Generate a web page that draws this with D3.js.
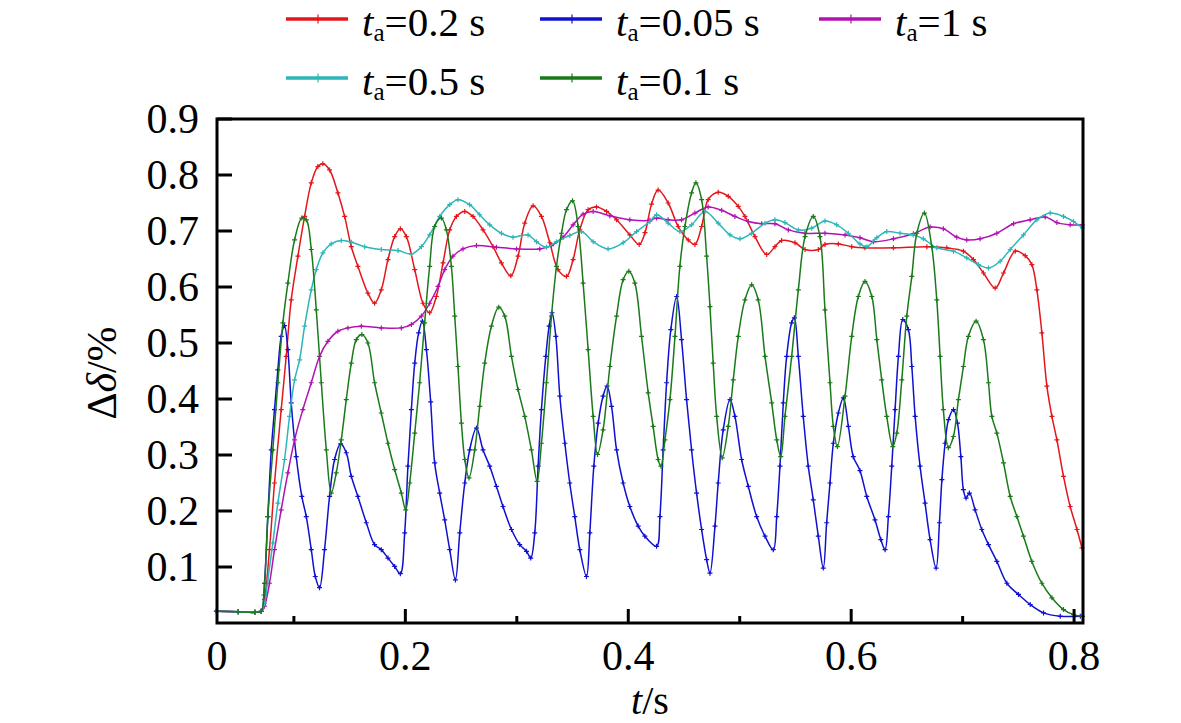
<!DOCTYPE html>
<html>
<head>
<meta charset="utf-8">
<script src="https://cdn.jsdelivr.net/npm/d3@7"></script>
<style>
  body { margin: 0; background: #fff; }
</style>
</head>
<body>
<div id="viz"></div>
<script>
// series: t (s) vs delta (%)
const seriesNames = ["0.2", "0.05", "1", "0.5", "0.1"];
const seriesColors = ["#e3161b", "#1010d0", "#b312b3", "#2db6b8", "#1a7a1a"];

const baseline = [[0.0305, 0.021], [0.0500, 0.020], [0.0650, 0.019], [0.0707, 0.021]];

const red = [[0.0736,0.042],[0.0781,0.131],[0.0826,0.250],[0.0886,0.381],[0.0931,0.476],[0.0976,0.577],[0.1036,0.655],[0.1096,0.726],[0.1156,0.786],[0.1215,0.815],[0.1260,0.820],[0.1320,0.809],[0.1395,0.768],[0.1455,0.726],[0.1515,0.672],[0.1574,0.637],[0.1664,0.589],[0.1724,0.571],[0.1784,0.595],[0.1844,0.649],[0.1904,0.690],[0.1955,0.704],[0.2009,0.690],[0.2084,0.631],[0.2158,0.571],[0.2218,0.554],[0.2278,0.583],[0.2338,0.643],[0.2398,0.702],[0.2458,0.726],[0.2533,0.735],[0.2607,0.726],[0.2697,0.702],[0.2787,0.672],[0.2862,0.643],[0.2946,0.620],[0.3011,0.655],[0.3071,0.714],[0.3146,0.745],[0.3221,0.726],[0.3296,0.679],[0.3370,0.631],[0.3446,0.619],[0.3505,0.649],[0.3565,0.702],[0.3640,0.738],[0.3715,0.743],[0.3805,0.735],[0.3895,0.720],[0.4014,0.693],[0.4098,0.676],[0.4150,0.697],[0.4209,0.748],[0.4268,0.773],[0.4358,0.750],[0.4448,0.708],[0.4538,0.684],[0.4598,0.676],[0.4658,0.708],[0.4717,0.756],[0.4807,0.769],[0.4897,0.762],[0.4987,0.744],[0.5047,0.726],[0.5137,0.690],[0.5242,0.658],[0.5316,0.672],[0.5376,0.683],[0.5496,0.679],[0.5586,0.667],[0.5705,0.667],[0.5765,0.676],[0.5885,0.677],[0.6005,0.672],[0.6124,0.670],[0.6379,0.670],[0.6679,0.672],[0.6858,0.670],[0.7007,0.664],[0.7097,0.649],[0.7187,0.625],[0.7292,0.598],[0.7367,0.625],[0.7472,0.664],[0.7561,0.656],[0.7621,0.640],[0.7666,0.595],[0.7711,0.518],[0.7756,0.423],[0.7801,0.369],[0.7846,0.327],[0.7905,0.262],[0.7965,0.208],[0.8026,0.167],[0.8071,0.134]];

const blue = [[0.0736,0.071],[0.0766,0.190],[0.0797,0.309],[0.0826,0.381],[0.0856,0.452],[0.0886,0.512],[0.0916,0.531],[0.0946,0.488],[0.0976,0.393],[0.1021,0.297],[0.1071,0.226],[0.1111,0.190],[0.1156,0.131],[0.1192,0.083],[0.1230,0.063],[0.1275,0.131],[0.1320,0.226],[0.1365,0.292],[0.1419,0.320],[0.1470,0.304],[0.1515,0.262],[0.1574,0.226],[0.1650,0.179],[0.1724,0.140],[0.1784,0.131],[0.1844,0.116],[0.1904,0.101],[0.1955,0.088],[0.1994,0.161],[0.2023,0.280],[0.2054,0.381],[0.2084,0.464],[0.2119,0.518],[0.2153,0.539],[0.2189,0.488],[0.2227,0.395],[0.2263,0.286],[0.2308,0.232],[0.2353,0.184],[0.2398,0.131],[0.2449,0.077],[0.2488,0.161],[0.2533,0.250],[0.2577,0.309],[0.2638,0.348],[0.2697,0.309],[0.2757,0.280],[0.2817,0.244],[0.2876,0.208],[0.2952,0.167],[0.3026,0.140],[0.3087,0.128],[0.3125,0.116],[0.3161,0.161],[0.3191,0.280],[0.3221,0.381],[0.3260,0.476],[0.3290,0.530],[0.3316,0.554],[0.3350,0.512],[0.3386,0.405],[0.3431,0.321],[0.3475,0.250],[0.3520,0.190],[0.3565,0.131],[0.3625,0.083],[0.3655,0.161],[0.3691,0.280],[0.3730,0.357],[0.3774,0.405],[0.3810,0.423],[0.3850,0.387],[0.3895,0.309],[0.3954,0.250],[0.4014,0.208],[0.4089,0.173],[0.4149,0.155],[0.4254,0.137],[0.4284,0.190],[0.4313,0.309],[0.4344,0.429],[0.4382,0.524],[0.4434,0.583],[0.4478,0.506],[0.4523,0.399],[0.4568,0.309],[0.4613,0.232],[0.4658,0.167],[0.4703,0.113],[0.4733,0.089],[0.4778,0.173],[0.4807,0.250],[0.4852,0.345],[0.4913,0.399],[0.4957,0.369],[0.5017,0.292],[0.5077,0.244],[0.5152,0.190],[0.5227,0.155],[0.5301,0.131],[0.5332,0.190],[0.5361,0.280],[0.5391,0.393],[0.5421,0.476],[0.5466,0.536],[0.5490,0.545],[0.5526,0.476],[0.5570,0.369],[0.5615,0.280],[0.5660,0.220],[0.5705,0.155],[0.5750,0.098],[0.5780,0.179],[0.5810,0.250],[0.5840,0.321],[0.5885,0.375],[0.5930,0.402],[0.5975,0.351],[0.6019,0.297],[0.6079,0.272],[0.6140,0.226],[0.6214,0.184],[0.6266,0.149],[0.6304,0.131],[0.6334,0.190],[0.6364,0.280],[0.6394,0.381],[0.6424,0.476],[0.6463,0.542],[0.6513,0.524],[0.6544,0.458],[0.6574,0.369],[0.6618,0.280],[0.6663,0.214],[0.6708,0.149],[0.6762,0.098],[0.6792,0.179],[0.6814,0.256],[0.6843,0.321],[0.6873,0.363],[0.6918,0.381],[0.6954,0.357],[0.6984,0.297],[0.7007,0.238],[0.7031,0.223],[0.7061,0.232],[0.7112,0.202],[0.7172,0.167],[0.7232,0.140],[0.7307,0.110],[0.7397,0.071],[0.7501,0.051],[0.7606,0.033],[0.7726,0.018],[0.7876,0.012],[0.8056,0.012]];

const magenta = [[0.0736,0.030],[0.0781,0.071],[0.0826,0.131],[0.0886,0.202],[0.0946,0.268],[0.1006,0.327],[0.1080,0.381],[0.1156,0.429],[0.1230,0.476],[0.1305,0.503],[0.1395,0.521],[0.1485,0.527],[0.1605,0.530],[0.1784,0.527],[0.1964,0.527],[0.2054,0.533],[0.2144,0.548],[0.2218,0.571],[0.2293,0.601],[0.2353,0.631],[0.2427,0.655],[0.2517,0.668],[0.2638,0.674],[0.2817,0.671],[0.2997,0.668],[0.3206,0.668],[0.3311,0.674],[0.3415,0.689],[0.3505,0.711],[0.3595,0.730],[0.3685,0.735],[0.3835,0.727],[0.4014,0.720],[0.4194,0.719],[0.4254,0.723],[0.4358,0.720],[0.4478,0.720],[0.4598,0.732],[0.4717,0.743],[0.4838,0.737],[0.4957,0.726],[0.5077,0.717],[0.5197,0.713],[0.5316,0.713],[0.5436,0.702],[0.5586,0.696],[0.5765,0.696],[0.5945,0.693],[0.6079,0.688],[0.6199,0.681],[0.6379,0.686],[0.6558,0.695],[0.6708,0.707],[0.6827,0.704],[0.6947,0.689],[0.7037,0.684],[0.7157,0.686],[0.7307,0.696],[0.7457,0.713],[0.7606,0.720],[0.7741,0.725],[0.7846,0.715],[0.7965,0.711],[0.8075,0.711]];

const cyan = [[0.0736,0.035],[0.0766,0.077],[0.0811,0.143],[0.0856,0.214],[0.0916,0.292],[0.0961,0.369],[0.1006,0.434],[0.1051,0.470],[0.1096,0.530],[0.1156,0.595],[0.1201,0.631],[0.1260,0.661],[0.1335,0.677],[0.1425,0.683],[0.1515,0.680],[0.1635,0.672],[0.1784,0.667],[0.1934,0.665],[0.2054,0.659],[0.2144,0.672],[0.2218,0.693],[0.2308,0.726],[0.2398,0.747],[0.2472,0.756],[0.2577,0.747],[0.2667,0.729],[0.2757,0.711],[0.2862,0.696],[0.2966,0.689],[0.3042,0.692],[0.3101,0.693],[0.3176,0.681],[0.3266,0.671],[0.3356,0.681],[0.3475,0.692],[0.3580,0.699],[0.3685,0.681],[0.3819,0.668],[0.3954,0.679],[0.4074,0.699],[0.4194,0.717],[0.4254,0.729],[0.4358,0.714],[0.4463,0.699],[0.4568,0.711],[0.4688,0.735],[0.4807,0.714],[0.4913,0.693],[0.5002,0.686],[0.5107,0.696],[0.5227,0.714],[0.5316,0.720],[0.5406,0.715],[0.5526,0.702],[0.5646,0.705],[0.5765,0.718],[0.5870,0.711],[0.5975,0.696],[0.6079,0.677],[0.6140,0.672],[0.6230,0.688],[0.6319,0.699],[0.6439,0.696],[0.6558,0.693],[0.6648,0.686],[0.6768,0.670],[0.6918,0.664],[0.7037,0.652],[0.7141,0.640],[0.7232,0.634],[0.7337,0.646],[0.7427,0.667],[0.7546,0.693],[0.7666,0.720],[0.7786,0.732],[0.7905,0.726],[0.7995,0.717],[0.8075,0.705]];

const green = [[0.0730,0.050],[0.0766,0.190],[0.0811,0.309],[0.0856,0.429],[0.0901,0.536],[0.0946,0.607],[0.1006,0.684],[0.1071,0.723],[0.1111,0.720],[0.1156,0.667],[0.1201,0.559],[0.1246,0.429],[0.1291,0.309],[0.1335,0.232],[0.1380,0.268],[0.1425,0.327],[0.1470,0.399],[0.1515,0.464],[0.1560,0.506],[0.1610,0.515],[0.1664,0.500],[0.1724,0.429],[0.1784,0.375],[0.1844,0.321],[0.1904,0.274],[0.1964,0.232],[0.2003,0.202],[0.2039,0.250],[0.2084,0.339],[0.2128,0.429],[0.2173,0.536],[0.2218,0.637],[0.2263,0.708],[0.2323,0.723],[0.2368,0.702],[0.2413,0.637],[0.2443,0.548],[0.2472,0.458],[0.2503,0.357],[0.2533,0.292],[0.2571,0.259],[0.2622,0.309],[0.2667,0.387],[0.2712,0.464],[0.2772,0.530],[0.2838,0.564],[0.2892,0.548],[0.2952,0.476],[0.3011,0.417],[0.3071,0.369],[0.3131,0.309],[0.3182,0.253],[0.3221,0.321],[0.3266,0.429],[0.3311,0.548],[0.3356,0.637],[0.3401,0.696],[0.3446,0.738],[0.3500,0.754],[0.3550,0.708],[0.3595,0.607],[0.3640,0.488],[0.3685,0.369],[0.3724,0.301],[0.3774,0.345],[0.3835,0.458],[0.3895,0.548],[0.3954,0.613],[0.4005,0.628],[0.4059,0.607],[0.4119,0.512],[0.4179,0.411],[0.4223,0.351],[0.4268,0.292],[0.4293,0.280],[0.4329,0.327],[0.4374,0.399],[0.4419,0.512],[0.4463,0.637],[0.4508,0.708],[0.4568,0.768],[0.4607,0.786],[0.4658,0.756],[0.4703,0.655],[0.4733,0.565],[0.4762,0.464],[0.4793,0.369],[0.4843,0.295],[0.4897,0.351],[0.4942,0.434],[0.4987,0.512],[0.5047,0.577],[0.5107,0.604],[0.5166,0.577],[0.5227,0.476],[0.5287,0.393],[0.5332,0.327],[0.5368,0.297],[0.5406,0.369],[0.5466,0.476],[0.5526,0.595],[0.5586,0.690],[0.5660,0.726],[0.5720,0.690],[0.5765,0.559],[0.5810,0.429],[0.5840,0.351],[0.5876,0.315],[0.5945,0.405],[0.6005,0.512],[0.6064,0.583],[0.6124,0.610],[0.6185,0.583],[0.6230,0.506],[0.6274,0.434],[0.6319,0.369],[0.6373,0.315],[0.6409,0.339],[0.6454,0.434],[0.6499,0.548],[0.6544,0.619],[0.6589,0.696],[0.6657,0.732],[0.6723,0.672],[0.6768,0.577],[0.6798,0.476],[0.6827,0.381],[0.6872,0.313],[0.6917,0.333],[0.6962,0.399],[0.7007,0.458],[0.7052,0.512],[0.7121,0.539],[0.7187,0.506],[0.7232,0.429],[0.7262,0.369],[0.7307,0.339],[0.7367,0.286],[0.7427,0.226],[0.7487,0.190],[0.7546,0.155],[0.7621,0.110],[0.7711,0.071],[0.7801,0.045],[0.7905,0.024],[0.7995,0.015],[0.8075,0.012]];

const seriesData = [red, blue, magenta, cyan, green].map(s => baseline.concat(s));

const yTicks = [0.1, 0.2, 0.3, 0.4, 0.5, 0.6, 0.7, 0.8, 0.9];
const xMajorTicks = [0.2, 0.4, 0.6, 0.8];
const xMinorTicks = [0.1, 0.3, 0.5, 0.7];

const W = 1181, H = 723;
const plotL = 217, plotR = 1083, plotT = 119, plotB = 623;
const SERIF = "'Liberation Serif'";

const svg = d3.select("#viz").append("svg")
  .attr("width", W).attr("height", H);

const x = d3.scaleLinear().domain([0.031, 0.808]).range([plotL, plotR]);
const y = d3.scaleLinear().domain([0, 0.9]).range([plotB, plotT]);

// curves
const line = d3.line()
  .x(d => x(d[0])).y(d => y(d[1]))
  .curve(d3.curveCatmullRom.alpha(0.5));

const plot = svg.append("g");
const plus = "M-2.5,0H2.5M0,-2.5V2.5";

seriesData.forEach((pts, i) => {
  const c = seriesColors[i];
  plot.append("path")
    .attr("d", line(pts))
    .attr("fill", "none")
    .attr("stroke", c)
    .attr("stroke-width", 1.5);
  plot.selectAll(null).data(pts).enter().append("path")
    .attr("transform", d => `translate(${x(d[0])},${y(d[1])})`)
    .attr("d", plus)
    .attr("stroke", c)
    .attr("stroke-width", 1.2);
});

// frame
svg.append("rect")
  .attr("x", plotL).attr("y", plotT)
  .attr("width", plotR - plotL).attr("height", plotB - plotT)
  .attr("fill", "none").attr("stroke", "#000").attr("stroke-width", 3);

// y ticks (inward)
svg.selectAll(".yt").data(yTicks).enter().append("line")
  .attr("x1", plotL).attr("x2", plotL + 15)
  .attr("y1", d => y(d)).attr("y2", d => y(d))
  .attr("stroke", "#000").attr("stroke-width", 3);

svg.selectAll(".yl").data(yTicks).enter().append("text")
  .attr("x", plotL - 18).attr("y", d => y(d) + 14)
  .attr("text-anchor", "end")
  .attr("font-family", SERIF)
  .attr("font-size", 42)
  .text(d => d3.format(".1f")(d));

// x ticks (inward)
svg.selectAll(".xt").data(xMajorTicks).enter().append("line")
  .attr("x1", d => x(d)).attr("x2", d => x(d))
  .attr("y1", plotB).attr("y2", plotB - 14)
  .attr("stroke", "#000").attr("stroke-width", 3);
svg.selectAll(".xm").data(xMinorTicks).enter().append("line")
  .attr("x1", d => x(d)).attr("x2", d => x(d))
  .attr("y1", plotB).attr("y2", plotB - 7)
  .attr("stroke", "#000").attr("stroke-width", 3);

svg.selectAll(".xl").data(xMajorTicks).enter().append("text")
  .attr("x", d => x(d)).attr("y", plotB + 47)
  .attr("text-anchor", "middle")
  .attr("font-family", SERIF)
  .attr("font-size", 42)
  .text(d => d3.format(".1f")(d));
svg.append("text")
  .attr("x", plotL).attr("y", plotB + 47)
  .attr("text-anchor", "middle")
  .attr("font-family", SERIF).attr("font-size", 42)
  .text("0");

// axis titles
const xt = svg.append("text")
  .attr("x", 650).attr("y", 714)
  .attr("text-anchor", "middle")
  .attr("font-family", SERIF).attr("font-size", 40);
xt.append("tspan").attr("font-style", "italic").text("t");
xt.append("tspan").text("/s");

const yt = svg.append("text")
  .attr("transform", "translate(116,373) rotate(-90)")
  .attr("text-anchor", "middle")
  .attr("font-family", SERIF).attr("font-size", 42);
yt.append("tspan").text("Δ");
yt.append("tspan").attr("font-style", "italic").text("δ");
yt.append("tspan").text("/%");

// legend
const legendPos = [[286, 19], [540, 19], [819, 19], [286, 78], [540, 78]];
seriesNames.forEach((name, i) => {
  const [lx, ly] = legendPos[i];
  const g = svg.append("g").attr("transform", `translate(${lx},${ly})`);
  g.append("line").attr("x1", 0).attr("x2", 62).attr("y1", 0).attr("y2", 0)
    .attr("stroke", seriesColors[i]).attr("stroke-width", 3.5);
  g.append("path").attr("transform", "translate(32,0)")
    .attr("d", "M-3,0H3M0,-4.5V4.5")
    .attr("stroke", seriesColors[i]).attr("stroke-width", 1.2);
  const t = g.append("text").attr("x", 76).attr("y", 17)
    .attr("font-family", SERIF).attr("font-size", 41);
  t.append("tspan").attr("font-style", "italic").text("t");
  t.append("tspan").attr("font-size", 25).attr("dy", 5).text("a");
  t.append("tspan").attr("dy", -5).text("=" + name + " s");
});
</script>
</body>
</html>
